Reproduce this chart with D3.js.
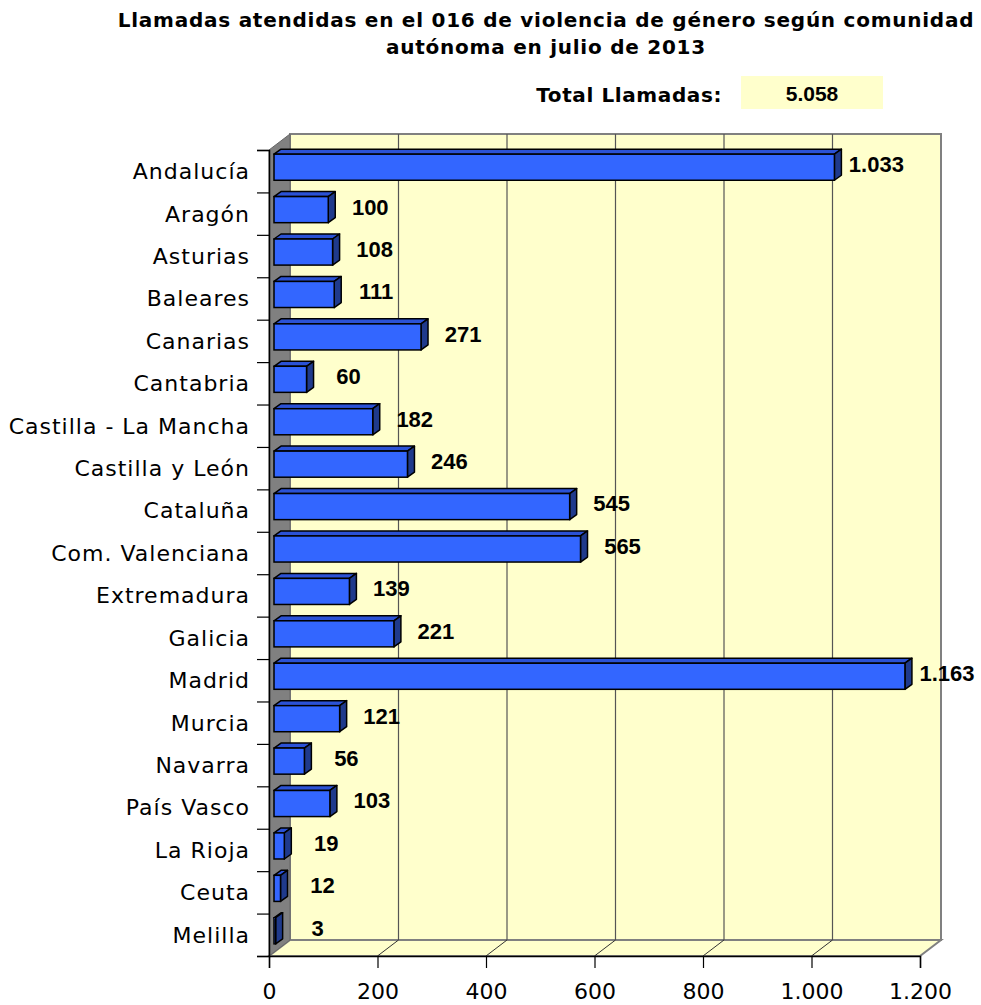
<!DOCTYPE html>
<html>
<head>
<meta charset="utf-8">
<script src="https://cdn.jsdelivr.net/npm/d3@7"></script>
<style>
  body { margin: 0; background: #fff; }
  text { font-family: "DejaVu Sans", Verdana, sans-serif; fill: #000; }
</style>
</head>
<body>
<svg id="chart"></svg>
<script>
// Data
const comunidades = ["Andalucía", "Aragón", "Asturias", "Baleares", "Canarias", "Cantabria",
    "Castilla - La Mancha", "Castilla y León", "Cataluña", "Com. Valenciana", "Extremadura",
    "Galicia", "Madrid", "Murcia", "Navarra", "País Vasco", "La Rioja", "Ceuta", "Melilla"];
const llamadas = [1033, 100, 108, 111, 271, 60, 182, 246, 545, 565, 139, 221, 1163, 121, 56, 103, 19, 12, 3];
const xTicks = [0, 200, 400, 600, 800, 1000, 1200];
const titulo = ["Llamadas atendidas en el 016 de violencia de género según comunidad",
    "autónoma en julio de 2013"];
const totalLabel = "Total Llamadas:";
const total = 5058;

// Set up dimensions
const width = 981, height = 1005;
const pLeft = 269, pRight = 920, pTop = 150, pBottom = 956;
// wall depth offset (3D look)
const wdx = 21, wdy = -16;
// bar front / back plane offsets
const bfx = 5, bfy = -4, bdx = 7, bdy = -5;

const svg = d3.select("#chart")
    .attr("width", width)
    .attr("height", height);

const es = d3.formatLocale({ decimal: ",", thousands: ".", grouping: [3], currency: ["", " €"] });
const fmt = es.format(",d");

const x = d3.scaleLinear().domain([0, 1200]).range([pLeft, pRight]);
const y = d3.scaleBand().domain(comunidades).range([pTop, pBottom]);
const edges = d3.scaleLinear().domain([0, comunidades.length]).range([pTop, pBottom]);

// Title
svg.selectAll(".title")
    .data(titulo)
    .enter()
    .append("text")
    .attr("class", "title")
    .attr("x", 546)
    .attr("y", (d, i) => 27 + i * 27)
    .attr("text-anchor", "middle")
    .style("font-size", "20px")
    .style("font-weight", "bold")
    .style("letter-spacing", "0.75px")
    .text(d => d);

// Total box
svg.append("text")
    .attr("x", 722)
    .attr("y", 102)
    .attr("text-anchor", "end")
    .style("font-size", "20px")
    .style("font-weight", "bold")
    .style("letter-spacing", "0.6px")
    .text(totalLabel);
svg.append("rect")
    .attr("x", 741).attr("y", 76)
    .attr("width", 142).attr("height", 33)
    .attr("fill", "#FFFFCC");
svg.append("text")
    .attr("x", 812)
    .attr("y", 101)
    .attr("text-anchor", "middle")
    .style("font-family", "'Liberation Sans', Arial, sans-serif")
    .style("font-size", "21px")
    .style("font-weight", "bold")
    .text(fmt(total));

// Back wall
svg.append("rect")
    .attr("x", pLeft + wdx).attr("y", pTop + wdy)
    .attr("width", pRight - pLeft).attr("height", pBottom - pTop)
    .attr("fill", "#FFFFCC")
    .attr("stroke", "#808080")
    .attr("stroke-width", 2);

// Floor
svg.append("polygon")
    .attr("points", [[pLeft, pBottom], [pRight, pBottom], [pRight + wdx, pBottom + wdy], [pLeft + wdx, pBottom + wdy]].join(" "))
    .attr("fill", "#FFFFCC")
    .attr("stroke", "#808080")
    .attr("stroke-width", 2);

// Grid lines on back wall and floor
const inner = xTicks.filter(t => t > 0 && t < 1200);
svg.selectAll(".grid")
    .data(inner)
    .enter()
    .append("line")
    .attr("x1", d => x(d) + wdx).attr("x2", d => x(d) + wdx)
    .attr("y1", pTop + wdy).attr("y2", pBottom + wdy)
    .attr("stroke", "#555")
    .attr("stroke-width", 1.2);
svg.selectAll(".floorgrid")
    .data(inner)
    .enter()
    .append("line")
    .attr("x1", d => x(d)).attr("x2", d => x(d) + wdx)
    .attr("y1", pBottom).attr("y2", pBottom + wdy)
    .attr("stroke", "#333")
    .attr("stroke-width", 1);

// Left wall
svg.append("polygon")
    .attr("points", [[pLeft, pTop], [pLeft + wdx, pTop + wdy], [pLeft + wdx, pBottom + wdy], [pLeft, pBottom]].join(" "))
    .attr("fill", "#808080")
    .attr("stroke", "#666")
    .attr("stroke-width", 1);

// X axis
const xAxis = svg.append("g")
    .attr("transform", `translate(0,${pBottom})`)
    .call(d3.axisBottom(x).tickValues(xTicks).tickSize(12).tickPadding(15).tickFormat(fmt));
xAxis.select(".domain").attr("stroke", "#000").attr("stroke-width", 1.5);
xAxis.selectAll(".tick line").attr("stroke", "#000").attr("stroke-width", 1.2);
xAxis.selectAll(".tick text")
    .style("font-family", "'DejaVu Sans', Verdana, sans-serif")
    .style("font-size", "22px")
    .attr("fill", "#000");

// Y axis (ticks at category boundaries)
const yAxis = svg.append("g")
    .attr("transform", `translate(${pLeft},0)`)
    .call(d3.axisLeft(edges).tickValues(d3.range(comunidades.length + 1)).tickSize(12).tickFormat(""));
yAxis.select(".domain").attr("stroke", "#000").attr("stroke-width", 1.5);
yAxis.selectAll(".tick line").attr("stroke", "#000").attr("stroke-width", 1.2);

// Category labels
svg.selectAll(".cat")
    .data(comunidades)
    .enter()
    .append("text")
    .attr("class", "cat")
    .attr("x", 250)
    .attr("y", d => y(d) + y.bandwidth() / 2)
    .attr("dy", "0.36em")
    .attr("text-anchor", "end")
    .style("font-size", "22px")
    .style("letter-spacing", "1px")
    .text(d => d);

// Bars
const barH = y.bandwidth() * 0.615;
const bars = svg.selectAll(".bar")
    .data(comunidades.map((c, i) => ({ name: c, value: llamadas[i] })))
    .enter()
    .append("g")
    .attr("class", "bar");

const fx0 = d => x(0) + bfx;
const fx1 = d => x(d.value) + bfx;
const fy0 = d => y(d.name) + bfy + (y.bandwidth() - barH) / 2;
const fy1 = d => fy0(d) + barH;

// top face
bars.append("polygon")
    .attr("points", d => [[fx0(d), fy0(d)], [fx1(d), fy0(d)], [fx1(d) + bdx, fy0(d) + bdy], [fx0(d) + bdx, fy0(d) + bdy]].join(" "))
    .attr("fill", "#2B52D6")
    .attr("stroke", "#000")
    .attr("stroke-width", 1.5)
    .attr("stroke-linejoin", "round");
// side face
bars.append("polygon")
    .attr("points", d => [[fx1(d), fy0(d)], [fx1(d) + bdx, fy0(d) + bdy], [fx1(d) + bdx, fy1(d) + bdy], [fx1(d), fy1(d)]].join(" "))
    .attr("fill", "#1F3A8C")
    .attr("stroke", "#000")
    .attr("stroke-width", 1.5)
    .attr("stroke-linejoin", "round");
// front face
bars.append("rect")
    .attr("x", fx0)
    .attr("y", fy0)
    .attr("width", d => fx1(d) - fx0(d))
    .attr("height", barH)
    .attr("fill", "#3366FF")
    .attr("stroke", "#000")
    .attr("stroke-width", 1.5);

// Value labels
bars.append("text")
    .attr("x", d => fx1(d) + 42)
    .attr("y", d => (fy0(d) + fy1(d)) / 2 - 3)
    .attr("dy", "0.36em")
    .attr("text-anchor", "middle")
    .style("font-family", "'Liberation Sans', Arial, sans-serif")
    .style("font-size", "22px")
    .style("font-weight", "bold")
    .text(d => fmt(d.value));
</script>
</body>
</html>
